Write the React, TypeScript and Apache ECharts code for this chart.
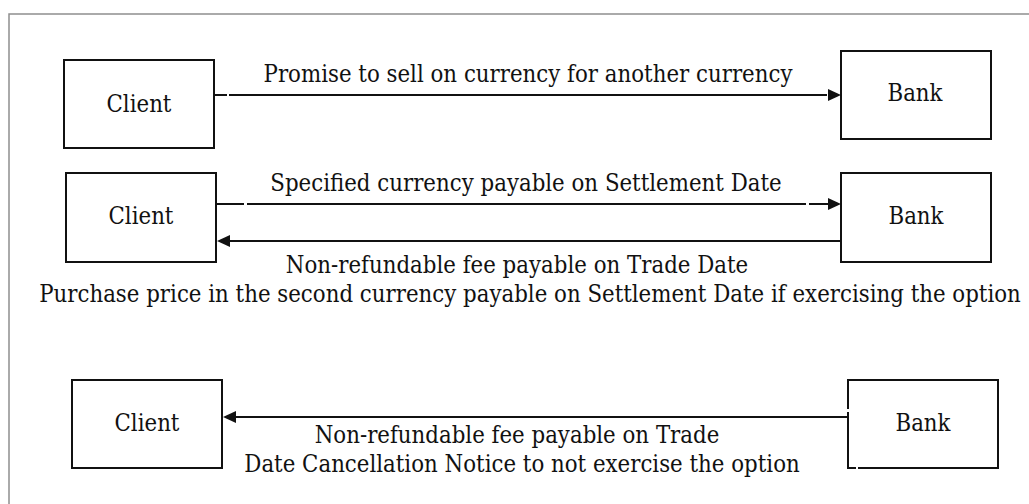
import React, { useEffect, useRef } from "react";
import * as echarts from "echarts";

// Party names shown in the boxes (top, middle, bottom rows)
const leftParties = ["Client", "Client", "Client"];
const rightParties = ["Bank", "Bank", "Bank"];

// Flow descriptions
const row1Labels = ["Promise to sell on currency for another currency"];
const row2UpperLabels = ["Specified currency payable on Settlement Date"];
const row2LowerLabels = [
  "Non-refundable fee payable on Trade Date",
  "Purchase price in the second currency payable on Settlement Date if exercising the option",
];
const row3Labels = [
  "Non-refundable fee payable on Trade",
  "Date Cancellation Notice to not exercise the option",
];

const FONT_FAMILY = "DejaVu Serif";
const FONT_SIZE = 23.5;
const SCALE_X = 0.908;
const INK = "#111";

function box(x: number, y: number, w: number, h: number, label: string, tx: number, ty: number) {
  return [
    {
      type: "rect",
      shape: { x, y, width: w, height: h },
      style: { fill: "#fff", stroke: INK, lineWidth: 2 },
    },
    text(label, tx, ty),
  ];
}

function text(t: string, x: number, y: number) {
  return {
    type: "text",
    x,
    y,
    z: 10,
    scaleX: SCALE_X,
    style: {
      text: t,
      fontFamily: FONT_FAMILY,
      fontSize: FONT_SIZE,
      fill: INK,
      textAlign: "center",
      textVerticalAlign: "middle",
    },
  };
}

function seg(x1: number, x2: number, y: number) {
  return {
    type: "line",
    shape: { x1, y1: y, x2, y2: y },
    style: { stroke: INK, lineWidth: 2 },
  };
}

function headRight(tip: number, y: number) {
  return {
    type: "polygon",
    shape: { points: [[tip, y], [tip - 13, y - 6], [tip - 13, y + 6]] },
    style: { fill: INK },
  };
}

function headLeft(tip: number, y: number) {
  return {
    type: "polygon",
    shape: { points: [[tip, y], [tip + 13, y - 6], [tip + 13, y + 6]] },
    style: { fill: INK },
  };
}

function gapCover(x: number, y: number, w: number, h: number) {
  return { type: "rect", shape: { x, y, width: w, height: h }, style: { fill: "#fff" } };
}

export default function App() {
  const ref = useRef<HTMLDivElement>(null);
  useEffect(() => {
    if (!ref.current) return;
    const chart = echarts.init(ref.current, null, { renderer: "svg" });
    const elements: any[] = [
      {
        type: "rect",
        shape: { x: 9, y: 14, width: 1040, height: 520 },
        style: { fill: "none", stroke: "#8f8f8f", lineWidth: 1.5 },
      },
      ...box(64, 60, 150, 88, leftParties[0], 139, 104),
      ...box(841, 51, 150, 88, rightParties[0], 915, 93),
      seg(214, 227, 95),
      seg(229, 827, 95),
      headRight(841, 95),
      text(row1Labels[0], 528, 74),
      ...box(66, 173, 150, 89, leftParties[1], 141, 216),
      ...box(841, 173, 150, 89, rightParties[1], 916, 216),
      seg(216, 244, 204),
      seg(247, 806, 204),
      seg(809, 829, 204),
      headRight(841, 204),
      seg(230, 841, 241),
      headLeft(217, 241),
      text(row2UpperLabels[0], 526, 183),
      text(row2LowerLabels[0], 517, 265),
      text(row2LowerLabels[1], 530, 294),
      ...box(72, 380, 150, 88, leftParties[2], 147, 423),
      ...box(848, 380, 150, 88, rightParties[2], 923, 423),
      gapCover(846, 409, 4, 3),
      gapCover(856, 466, 2, 4),
      seg(235, 848, 417),
      headLeft(223, 417),
      text(row3Labels[0], 517, 435),
      text(row3Labels[1], 522, 464),
    ];
    chart.setOption({
      animation: false,
      backgroundColor: "#fff",
      graphic: { elements },
    });
    return () => chart.dispose();
  }, []);
  return (
    <div
      ref={ref}
      style={{ position: "fixed", left: 0, top: 0, width: 1029, height: 504, background: "#fff" }}
    />
  );
}
